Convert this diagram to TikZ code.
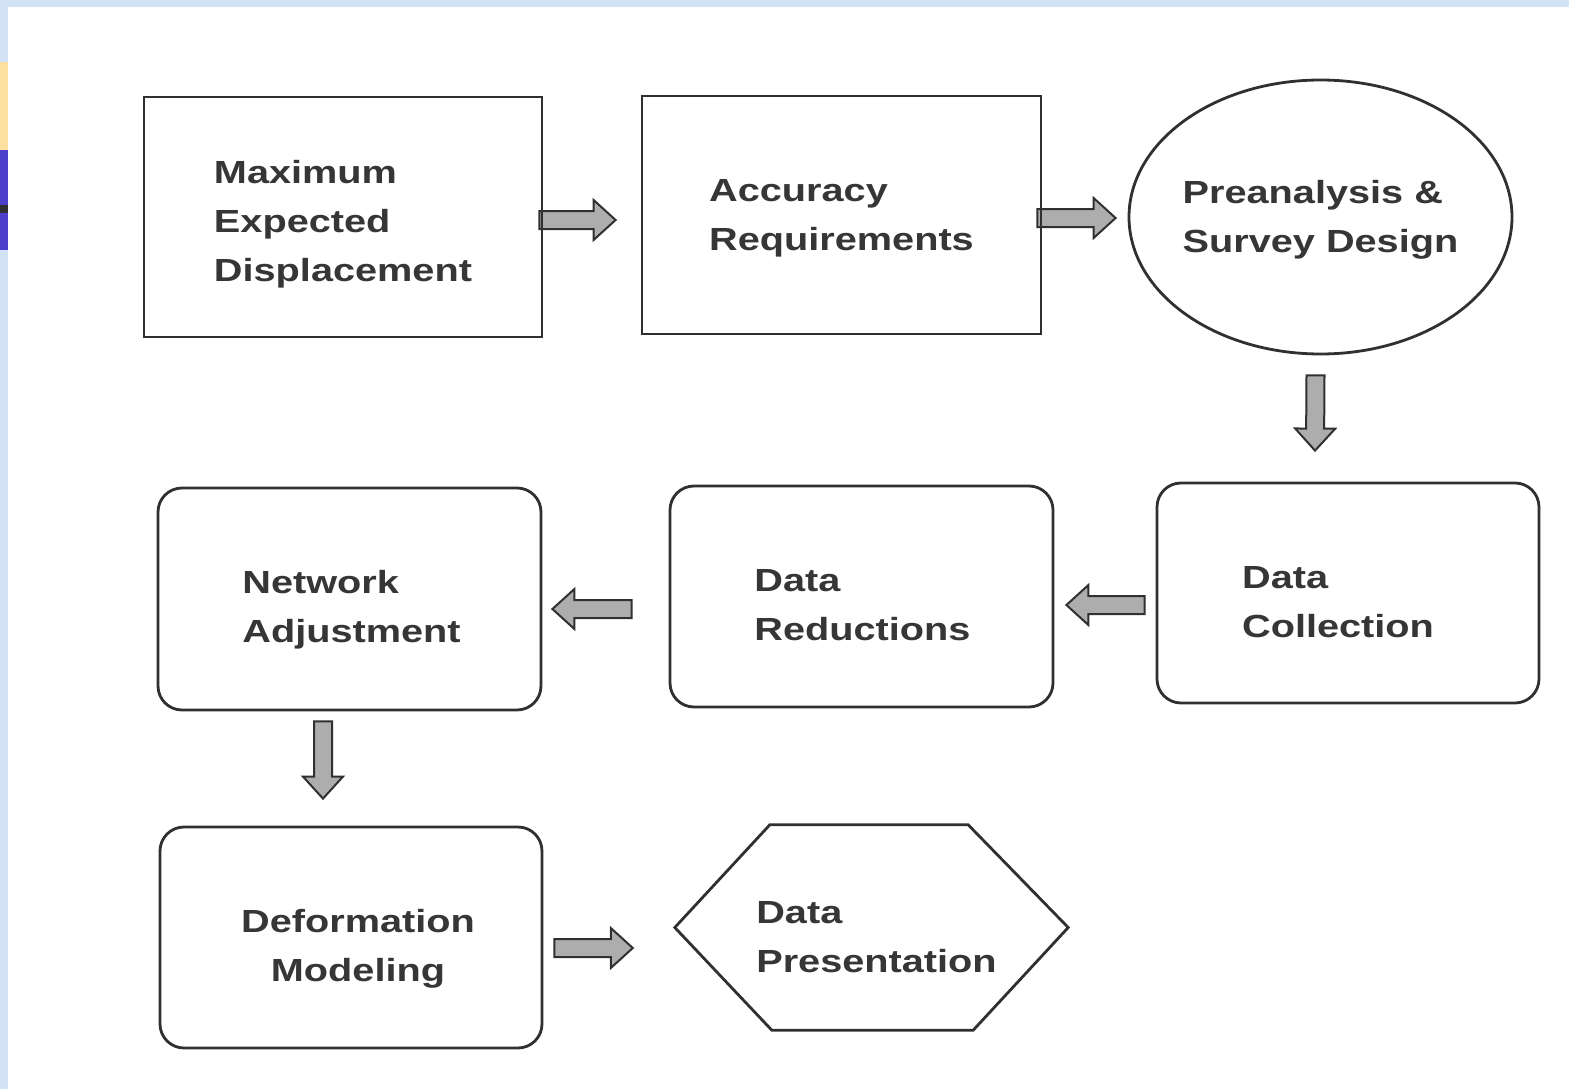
\documentclass[tikz,border=0pt]{standalone}
\usepackage{fontspec}
\newfontfamily\diagfont[FakeStretch=1.24]{Liberation Sans}
\usetikzlibrary{calc,shapes.geometric}
\definecolor{edge}{HTML}{303030}
\definecolor{txtc}{HTML}{363636}
\definecolor{arrfill}{HTML}{ADADAD}
\definecolor{frameblue}{HTML}{D3E2F4}
\definecolor{sideyellow}{HTML}{FDE0A0}
\definecolor{sideblue}{HTML}{4B40CC}
\pgfdeclarelayer{bg}
\pgfsetlayers{bg,main}
\tikzset{
  shapebox/.style={draw=edge, line width=2.8pt, inner sep=0pt},
  roundbox/.style={shapebox, rounded corners=24pt},
  lbl/.style={text=txtc, inner sep=0pt, align=left,
    font=\diagfont\bfseries\fontsize{32}{49}\selectfont},
  blockarrow/.style={draw=edge, fill=arrfill, line width=2pt, line join=miter},
}
\newcommand\blockarr[2]{%
  \coordinate (hb) at ($(#2)!22pt!(#1)$);
  \filldraw[blockarrow] ($(#1)!9pt!90:(#2)$) -- ($(hb)!9pt!90:(#2)$)
    -- ($(hb)!20pt!90:(#2)$) -- (#2) -- ($(hb)!20pt!-90:(#2)$)
    -- ($(hb)!9pt!-90:(#2)$) -- ($(#1)!9pt!-90:(#2)$) -- cycle;}
\begin{document}
\begin{tikzpicture}[x=1pt,y=-1pt]
\useasboundingbox (0,0) rectangle (1569,1089);
\begin{pgfonlayer}{bg}
\fill[white] (0,0) rectangle (1569,1089);
\fill[frameblue] (0,0) rectangle (1569,7);
\fill[frameblue] (0,0) rectangle (8,1089);
\fill[sideyellow] (0,62) rectangle (8,150);
\fill[sideblue] (0,150) rectangle (8,250);
\fill[edge] (0,205) rectangle (8,213);
\end{pgfonlayer}

% shapes
\node[shapebox, minimum width=398pt, minimum height=240pt] (b1) at (343,217) {};
\node[shapebox, minimum width=399pt, minimum height=238pt] (b2) at (841.5,215) {};
\node[shapebox, ellipse, minimum width=383pt, minimum height=274pt] (b3) at (1320.5,217) {};
\node[roundbox, minimum width=382pt, minimum height=220pt] (b4) at (1348,593) {};
\node[roundbox, minimum width=383pt, minimum height=221pt] (b5) at (861.5,596.5) {};
\node[roundbox, minimum width=383pt, minimum height=222pt] (b6) at (349.5,599) {};
\node[roundbox, minimum width=382pt, minimum height=221pt] (b7) at (351,937.5) {};
\node[inner sep=0pt, minimum width=393pt, minimum height=205pt] (b8) at (871.5,927.5) {};
\draw[edge, line width=2.8pt, line join=miter]
  ($(b8.north west)+(95,0)$) -- ($(b8.north east)+(-100,0)$) -- (b8.east)
  -- ($(b8.south east)+(-95,0)$) -- ($(b8.south west)+(97,0)$) -- (b8.west) -- cycle;

% labels
\node[lbl] (t1) at ($(b1.center)+(0,7)$) {Maximum\\Expected\\Displacement};
\node[lbl] (t2) at ($(b2.center)+(0,3.5)$) {Accuracy\\Requirements};
\node[lbl] (t3) at ($(b3.center)+(0,3)$) {Preanalysis \&\\Survey Design};
\node[lbl] (t4) at ($(b4.center)+(-10,9)$) {Data\\Collection};
\node[lbl] (t5) at ($(b5.center)+(1,9)$) {Data\\Reductions};
\node[lbl] (t6) at ($(b6.center)+(2,11)$) {Network\\Adjustment};
\node[lbl, align=center] (t7) at ($(b7.center)+(7,11)$) {Deformation\\Modeling};
\node[lbl] (t8) at ($(b8.center)+(5,10)$) {Data\\Presentation};

% connectors (block arrows)
\coordinate (a1s) at ($(b1.east)+(-4,3)$);
\coordinate (a1e) at ($(b2.west)+(-25,5)$);
\coordinate (a2s) at ($(b2.east)+(-5,3)$);
\coordinate (a2e) at ($(b3.west)+(-12,1)$);
\coordinate (a3s) at ($(b3.south)+(-5,20)$);
\coordinate (a3e) at ($(b4.north)+(-33,-31)$);
\coordinate (a4s) at ($(b4.west)+(-11,12)$);
\coordinate (a4e) at ($(b5.east)+(12,8.5)$);
\coordinate (a5s) at ($(b5.west)+(-37,12.5)$);
\coordinate (a5e) at ($(b6.east)+(10,10)$);
\coordinate (a6s) at ($(b6.south)+(-26.5,10)$);
\coordinate (a6e) at ($(b7.north)+(-28,-27)$);
\coordinate (a7s) at ($(b7.east)+(11,10.5)$);
\coordinate (a7e) at ($(b8.west)+(-42,20.5)$);
\begin{pgfonlayer}{bg}
\blockarr{a1s}{a1e}
\blockarr{a2s}{a2e}
\blockarr{a3s}{a3e}
\blockarr{a4s}{a4e}
\blockarr{a5s}{a5e}
\blockarr{a6s}{a6e}
\blockarr{a7s}{a7e}
\end{pgfonlayer}
\end{tikzpicture}
\end{document}
